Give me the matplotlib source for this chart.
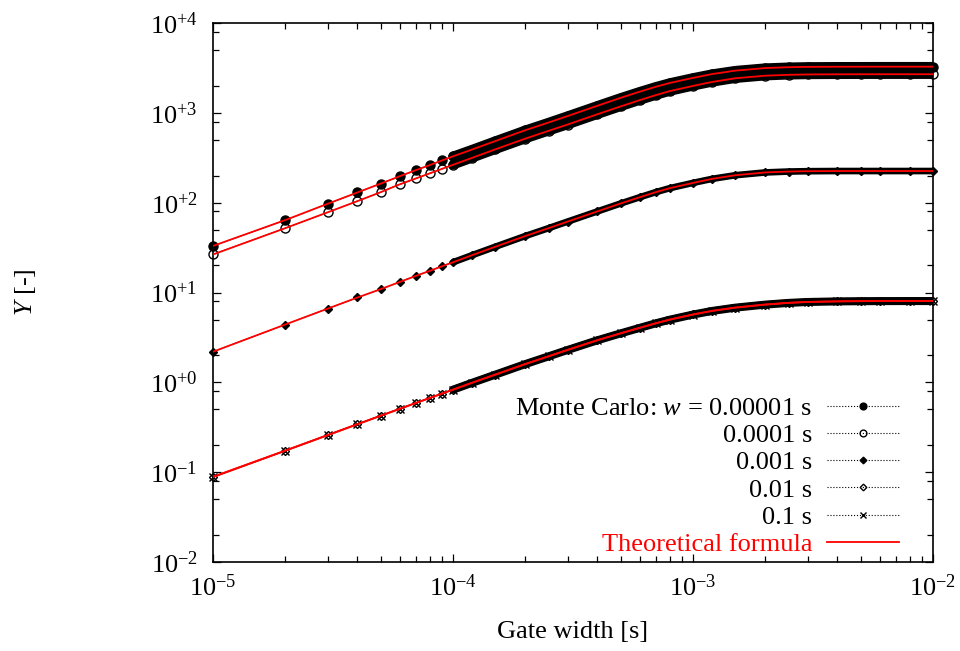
import numpy as np
import matplotlib
matplotlib.use('Agg')
import matplotlib.pyplot as plt
from matplotlib.ticker import FixedLocator, FixedFormatter, LogLocator, NullFormatter
from matplotlib.lines import Line2D

plt.rcParams['font.family'] = ['Liberation Serif', 'DejaVu Serif']
plt.rcParams['mathtext.fontset'] = 'custom'
plt.rcParams['mathtext.rm'] = 'Liberation Serif'
plt.rcParams['mathtext.it'] = 'Liberation Serif:italic'
plt.rcParams['font.size'] = 19

# gate widths [s] at which values were read
gate_width = [1e-5, 2e-5, 3e-5, 4e-5, 5e-5, 6e-5, 7e-5, 8e-5, 9e-5, 1e-4,
              1.2e-4, 1.5e-4, 2e-4, 2.5e-4, 3e-4, 4e-4, 5e-4, 6e-4, 7e-4, 8e-4,
              1e-3, 1.2e-3, 1.5e-3, 2e-3, 2.5e-3, 3e-3, 4e-3, 5e-3, 6e-3, 8e-3, 1e-2]

# Y values for each Monte Carlo width w
y_w00001 = [33, 64, 97, 130, 163, 197, 230, 262, 295, 328,
            390, 485, 640, 780, 920, 1200, 1470, 1720, 1950, 2150,
            2450, 2700, 2950, 3150, 3220, 3250, 3260, 3262, 3264, 3265, 3265]
y_w0001 = [26.5, 52, 78, 104, 131, 160, 186, 212, 238, 264,
           315, 392, 516, 630, 740, 965, 1180, 1385, 1575, 1745,
           1995, 2205, 2425, 2590, 2650, 2675, 2685, 2688, 2690, 2690, 2690]
y_w001 = [2.19, 4.4, 6.6, 8.8, 10.9, 13.1, 15.3, 17.4, 19.6, 21.7,
          26.0, 32.3, 42.5, 52, 61.5, 80, 98, 115, 131, 145,
          166, 184, 202, 217, 222, 224, 225, 225, 225, 225, 225]
y_w01 = [0.089, 0.174, 0.259, 0.343, 0.426, 0.508, 0.59, 0.67, 0.75, 0.83,
         0.99, 1.22, 1.6, 1.95, 2.3, 2.95, 3.52, 4.05, 4.55, 5.0,
         5.7, 6.25, 6.8, 7.35, 7.68, 7.86, 7.98, 8.02, 8.04, 8.05, 8.05]
y_w1 = [0.088, 0.173, 0.257, 0.341, 0.424, 0.506, 0.588, 0.668, 0.748, 0.828,
        0.987, 1.217, 1.595, 1.945, 2.29, 2.94, 3.51, 4.04, 4.54, 4.98,
        5.68, 6.23, 6.78, 7.33, 7.66, 7.84, 7.96, 8.0, 8.02, 8.03, 8.03]

labels = ['Monte Carlo: $w$ = 0.00001 s', '0.0001 s', '0.001 s', '0.01 s', '0.1 s']
series = [y_w00001, y_w0001, y_w001, y_w01, y_w1]
# marker, fill, size(pt)
styles = [('o', 'black', 6.5), ('o', 'none', 6.5), ('D', 'black', 4.5),
          ('D', 'none', 4.5), ('x', 'black', 5.5)]

fig = plt.figure(figsize=(9.6, 6.51), dpi=100)
ax = fig.add_axes([213 / 960, 89 / 651, 720 / 960, 539 / 651])

x = np.array(gate_width)
dense = x >= 1e-4
for y, (m, fc, ms) in zip(series, styles):
    y = np.array(y)
    # overlapping markers form a solid band where the gate widths get dense
    ax.plot(x[dense], y[dense], '-', color='black', lw=ms + 0.3,
            solid_capstyle='round', zorder=2)
    ax.plot(x, y, ':', color='black', lw=0.8, marker=m, mfc=fc, mec='black',
            ms=ms, mew=1.0, zorder=3, clip_on=False)
for y in series:
    ax.plot(x, y, '-', color='red', lw=1.3, zorder=4)

ax.set_xscale('log')
ax.set_yscale('log')
ax.set_xlim(1e-5, 1e-2)
ax.set_ylim(1e-2, 1e4)

xt = [1e-5, 1e-4, 1e-3, 1e-2]
ax.xaxis.set_major_locator(FixedLocator(xt))
ax.xaxis.set_major_formatter(FixedFormatter([r'$10^{-5}$', r'$10^{-4}$', r'$10^{-3}$', r'$10^{-2}$']))
ax.xaxis.set_minor_locator(LogLocator(base=10, subs=np.arange(2, 10), numticks=20))
ax.xaxis.set_minor_formatter(NullFormatter())
yt = [1e-2, 1e-1, 1e0, 1e1, 1e2, 1e3, 1e4]
ax.yaxis.set_major_locator(FixedLocator(yt))
ax.yaxis.set_major_formatter(FixedFormatter([r'$10^{-2}$', r'$10^{-1}$', r'$10^{+0}$',
                                             r'$10^{+1}$', r'$10^{+2}$', r'$10^{+3}$', r'$10^{+4}$']))
ax.yaxis.set_minor_locator(LogLocator(base=10, subs=[2, 5, 8], numticks=20))
ax.yaxis.set_minor_formatter(NullFormatter())

ax.tick_params(which='both', direction='in', top=True, right=True, width=0.9)
ax.tick_params(which='major', length=6)
ax.tick_params(which='minor', length=4)
ax.tick_params(axis='y', which='major', pad=11)
ax.tick_params(axis='x', which='major', pad=9)
for s in ax.spines.values():
    s.set_linewidth(1.2)

ax.set_xlabel('Gate width [s]')
ax.xaxis.set_label_coords(0.5, -0.11)
ax.set_ylabel('$Y$ [-]')
ax.yaxis.set_label_coords(-0.243, 0.5)

handles = [Line2D([], [], ls=':', lw=0.8, color='black', marker=m, mfc=fc,
                  mec='black', ms=ms * 0.75) for (m, fc, ms) in styles]
handles.append(Line2D([], [], ls='-', lw=1.3, color='red'))
leg = ax.legend(handles, labels + ['Theoretical formula'], loc='lower right',
                bbox_to_anchor=(0.979, -0.023), frameon=False, markerfirst=False,
                handlelength=2.75, labelspacing=0.14, handletextpad=0.55,
                borderpad=0.2)
leg.get_texts()[-1].set_color('red')

fig.savefig('out.png', dpi=100)
